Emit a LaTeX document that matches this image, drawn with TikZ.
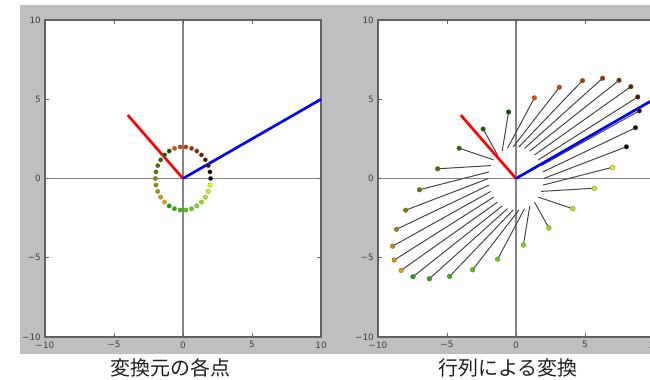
\documentclass[tikz,border=0pt]{standalone}
\usepackage{fontspec}
\newfontfamily\cjkfont{Noto Sans CJK JP}
\newfontfamily\tickfont{DejaVu Sans}
\definecolor{bggray}{HTML}{BFBFBF}
\tikzset{
  frameline/.style={draw=black!62, line width=1.1pt},
  axisline/.style={draw=black!48, line width=1pt},
  tickmark/.style={draw=black!60, line width=0.6pt},
  ticklabel/.style={inner sep=0pt, text=black!75, font=\tickfont\fontsize{6.6pt}{7pt}\selectfont},
  caption/.style={inner sep=0pt, text=black!88, font=\cjkfont\fontsize{15pt}{18pt}\selectfont},
  redvec/.style={draw=red, line width=2pt},
  bluevec/.style={draw=blue, line width=2pt},
  connline/.style={draw=black!72, line width=0.75pt},
  plotunits/.style={x=10.35pt, y=11.8875pt}
}
\begin{document}
\begin{tikzpicture}[x=0.75pt,y=-0.75pt]
\useasboundingbox (0,0) rectangle (650,379);
\clip (0,0) rectangle (650,379);
\fill[bggray] (20,5) rectangle (650,354);

% both panels: axes, ticks, labels
\foreach \ox/\pid in {183/L, 516/R}{
  \begin{scope}[shift={(\ox,178.5)}, plotunits]
    \fill[white] (-10,-10) rectangle (10,10);
    \draw[axisline] (-10,0) -- (10,0);
    \draw[axisline] (0,-10) -- (0,10);
    \foreach \t in {-5,0,5}{
      \draw[tickmark] (\t,-10) -- ++(0,0.26);
      \draw[tickmark] (\t,10) -- ++(0,-0.26);
      \draw[tickmark] (-10,\t) -- ++(0.3,0);
      \draw[tickmark] (10,\t) -- ++(-0.3,0);
    }
    \draw[frameline] (-10,-10) rectangle (10,10);
    \foreach \t/\lab/\n in {-10/−10/a, -5/−5/b, 0/0/c, 5/5/d, 10/10/e}{
      \node[ticklabel, anchor=east, xshift=-3pt] (yl\pid\n) at (-10,\t) {\lab};
      \node[ticklabel, anchor=north, yshift=-3.2pt] (xl\pid\n) at (\t,-10) {\lab};
    }
  \end{scope}
}

% left panel: vectors and original points
\begin{scope}[shift={(183,178.5)}, plotunits]
  \coordinate (Lo) at (0,0);
  \coordinate (Lred) at (-4,4);
  \coordinate (Lblue) at (10,5);
  \draw[redvec] (Lo) -- (Lred);
  \draw[bluevec] (Lo) -- (Lblue);
  \foreach \k in {0,...,29}{
    \pgfmathsetmacro\rr{mod(\k,10)/10}
    \pgfmathsetmacro\gg{\k/30}
    \definecolor{dotc}{rgb}{\rr,\gg,0}
    \fill[dotc, draw=black!50, line width=0.15pt] ({2*cos(12*\k)},{2*sin(12*\k)}) circle[radius=1.7pt];
  }
\end{scope}

% right panel: transformed points
\begin{scope}[shift={(516,178.5)}, plotunits]
  \coordinate (Ro) at (0,0);
  \coordinate (Rred) at (-4,4);
  \coordinate (Rblue) at (10,5);
  \foreach \k in {0,...,29}{
    \pgfmathsetmacro\cc{2*cos(12*\k)}
    \pgfmathsetmacro\ss{2*sin(12*\k)}
    \coordinate (P\k) at (\cc,\ss);
    \coordinate (Q\k) at ({4*\cc+2*\ss},{\cc+3*\ss});
    \draw[connline] (P\k) -- (Q\k);
  }
  \draw[redvec] (Ro) -- (Rred);
  \draw[bluevec] (Ro) -- (Rblue);
  \foreach \k in {0,...,29}{
    \pgfmathsetmacro\rr{mod(\k,10)/10}
    \pgfmathsetmacro\gg{\k/30}
    \definecolor{dotc}{rgb}{\rr,\gg,0}
    \fill[dotc, draw=black!60, line width=0.2pt] (Q\k) circle[radius=1.8pt];
  }
\end{scope}

\node[caption] (capL) at (170,368) {変換元の各点};
\node[caption] (capR) at (508,368) {行列による変換};
\end{tikzpicture}
\end{document}
